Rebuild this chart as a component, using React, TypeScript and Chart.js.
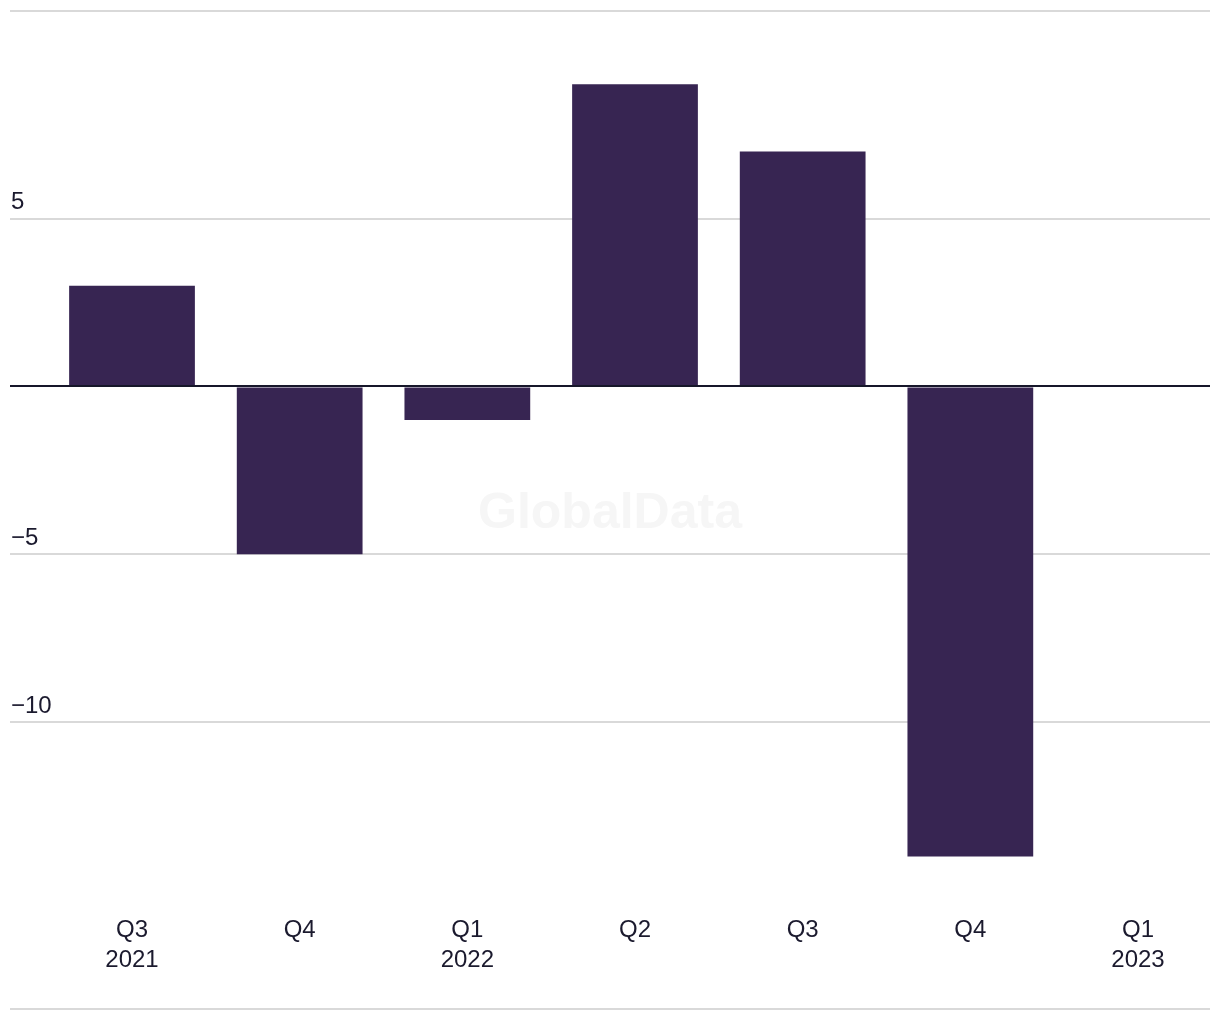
import React, { useEffect, useRef } from "react";
import { Chart, registerables } from "chart.js";

Chart.register(...registerables);

const categories: string[][] = [
  ["Q3", "2021"],
  ["Q4"],
  ["Q1", "2022"],
  ["Q2"],
  ["Q3"],
  ["Q4"],
  ["Q1", "2023"],
];
const values: (number | null)[] = [3.0, -5.0, -1.0, 9.0, 7.0, -14.0, null];
const yTickValues: number[] = [-10, -5, 0, 5];

const FONT = "'Liberation Sans', Arial, sans-serif";
const TEXT = "#1b1a2e";
const BAR = "#372552";
const GRID = "#d9d9d9";
const ZERO = "#17172a";

const decorPlugin = {
  id: "decor",
  beforeDraw(chart: any) {
    const { ctx, chartArea, height } = chart;
    ctx.save();
    ctx.fillStyle = GRID;
    ctx.fillRect(chartArea.left, 2, chartArea.right - chartArea.left, 2);
    ctx.fillRect(chartArea.left, height - 4, chartArea.right - chartArea.left, 2);
    ctx.fillStyle = "#f6f6f6";
    ctx.font = `bold 50px ${FONT}`;
    ctx.textAlign = "center";
    ctx.textBaseline = "alphabetic";
    ctx.fillText("GlobalData", (chartArea.left + chartArea.right) / 2, height / 2 + 18);
    ctx.restore();
  },
  afterDatasetsDraw(chart: any) {
    const { ctx, chartArea, scales } = chart;
    const y0 = Math.round(scales.y.getPixelForValue(0));
    ctx.save();
    ctx.fillStyle = ZERO;
    ctx.fillRect(chartArea.left, y0 - 1, chartArea.right - chartArea.left, 2);
    ctx.restore();
  },
};

export default function App() {
  const ref = useRef<HTMLCanvasElement | null>(null);
  useEffect(() => {
    if (!ref.current) return;
    const chart = new Chart(ref.current, {
      type: "bar",
      data: {
        datasets: [
          {
            data: values.map((v, i) => ({ x: i, y: v })) as any,
            backgroundColor: BAR,
            borderWidth: 0,
            categoryPercentage: 1,
            barPercentage: 0.75,
          },
        ],
      },
      options: {
        animation: false,
        responsive: true,
        maintainAspectRatio: false,
        layout: { padding: { left: 0, right: 2, top: 26, bottom: 20 } },
        plugins: { legend: { display: false }, tooltip: { enabled: false } },
        scales: {
          x: {
            type: "linear",
            offset: false,
            min: -0.7277,
            max: 6.4294,
            grid: { display: false, offset: false },
            border: { display: false },
            afterBuildTicks: (axis: any) => {
              axis.ticks = categories.map((_, i) => ({ value: i }));
            },
            ticks: {
              padding: 17,
              color: TEXT,
              font: { family: FONT, size: 24, lineHeight: 1.25 },
              maxRotation: 0,
              autoSkip: false,
              callback: (v: any) => categories[Number(v)] ?? "",
            },
          },
          y: {
            type: "linear",
            min: -15,
            max: 10.5,
            border: { display: false },
            grid: {
              drawTicks: false,
              lineWidth: 2,
              color: (c: any) => (c.tick && c.tick.value === 0 ? "rgba(0,0,0,0)" : GRID),
            },
            afterBuildTicks: (axis: any) => {
              axis.ticks = yTickValues.map((v) => ({ value: v }));
            },
            ticks: {
              mirror: true,
              padding: 1,
              labelOffset: -16,
              color: TEXT,
              font: { family: FONT, size: 24 },
              callback: (v: any) => {
                const n = Number(v);
                if (n === 0) return "";
                return n < 0 ? "\u2212" + Math.abs(n) : String(n);
              },
            },
          },
        },
      },
      plugins: [decorPlugin],
    });
    return () => chart.destroy();
  }, []);
  return (
    <div style={{ position: "relative", width: "100%", height: 1004 }}>
      <canvas ref={ref} />
    </div>
  );
}
